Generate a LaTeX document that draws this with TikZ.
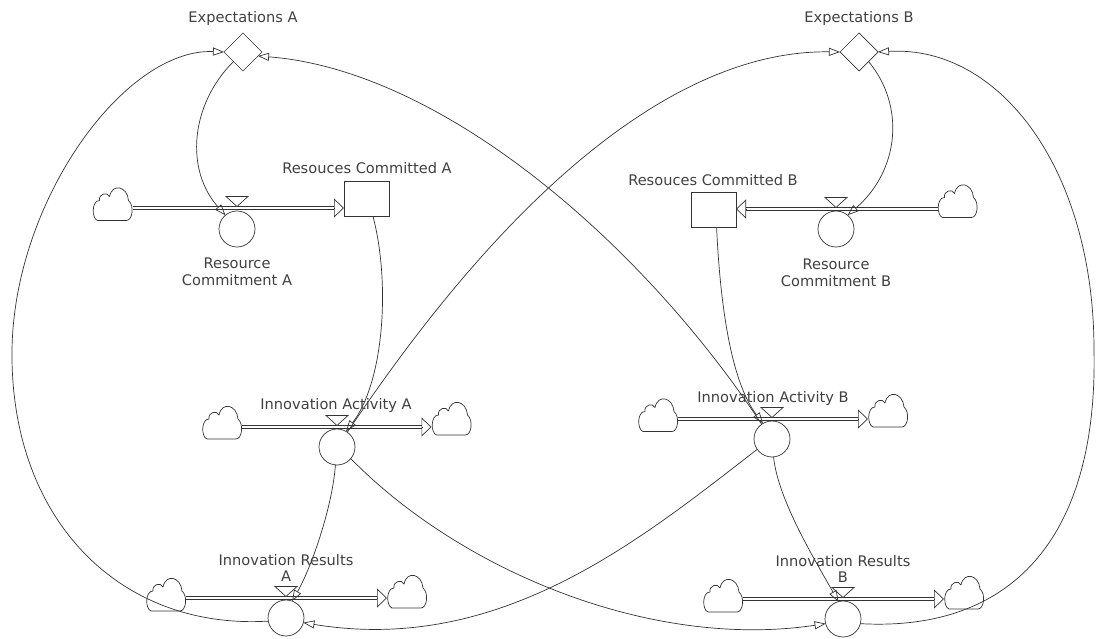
\documentclass[tikz,border=0pt]{standalone}
\usepackage{fontspec}
\setmainfont{DejaVu Sans}
\usetikzlibrary{shapes.geometric, arrows.meta}

\begin{document}
\begin{tikzpicture}[x=1pt, y=-1pt,
  every node/.style={inner sep=0pt, outer sep=0pt},
  ink/.style={draw=black!80, line width=0.7pt},
  lbl/.style={text=black!75, font=\fontsize{14.6}{16.5}\selectfont, align=center},
  aux/.style={ink, circle, minimum size=36pt, fill=white},
  level/.style={ink, rectangle, minimum width=45pt, minimum height=35pt, fill=white},
  expect/.style={ink, diamond, minimum width=38pt, minimum height=38pt, fill=white},
  cloudslot/.style={rectangle, minimum width=40pt, minimum height=33pt},
  pipe/.style={draw=black!80, line width=0.7pt, double=white, double distance=2.2pt},
  pipetip/.style={ink, -{Triangle[open, length=10pt, width=19pt]}},
  link/.style={ink, -{Triangle[open, length=11pt, width=8pt]}},
  valvetri/.style={ink, fill=white, line join=miter},
  cloudpic/.pic={
    \draw[ink, line join=round, yscale=-1]
      (-15,-16) -- (14,-16)
      .. controls (20,-16) and (22,-1) .. (16,4)
      .. controls (15,18) and (0,22) .. (-3,8)
      .. controls (-5,13) and (-14,11) .. (-13,4)
      .. controls (-21,4) and (-21,-14) .. (-15,-16) -- cycle;
  }
]
\useasboundingbox (0,0) rectangle (1096,639);

% ---------- stocks, auxiliaries and expectations ----------
\node[expect] (expA) at (243,52) {};
\node[expect] (expB) at (859,52) {};
\node[level] (stA) at (366.5,198.5) {};
\node[level] (stB) at (713.5,210) {};
\node[aux] (rcA) at (237,229) {};
\node[aux] (rcB) at (836,229) {};
\node[aux] (iaA) at (337,447) {};
\node[aux] (iaB) at (772,439) {};
\node[aux] (irA) at (286,618) {};
\node[aux] (irB) at (843,619) {};

% ---------- pipe levels (valve positions) ----------
\coordinate (pRA) at (237,208);
\coordinate (pRB) at (836,209);
\coordinate (pIA) at (337,427);
\coordinate (pIB) at (772,419);
\coordinate (pRsA) at (286,598);
\coordinate (pRsB) at (843,599);

% ---------- sources and sinks ----------
\node[cloudslot] (clRAl) at (112.5,204.5) {};
\node[cloudslot] (clRBr) at (957.5,201.5) {};
\node[cloudslot] (clIAl) at (222,423) {};
\node[cloudslot] (clIAr) at (451.5,419) {};
\node[cloudslot] (clIBl) at (658,415.5) {};
\node[cloudslot] (clIBr) at (888,411) {};
\node[cloudslot] (clRsAl) at (166,595) {};
\node[cloudslot] (clRsAr) at (407,592) {};
\node[cloudslot] (clRsBl) at (723,596) {};
\node[cloudslot] (clRsBr) at (964,593) {};
\foreach \c in {clRAl,clRBr,clIAl,clIAr,clIBl,clIBr,clRsAl,clRsAr,clRsBl,clRsBr}
  \pic at (\c) {cloudpic};

% ---------- flow end points ----------
\coordinate (eRA) at (stA.west |- pRA);
\coordinate (eRB) at (stB.east |- pRB);
\coordinate (eIA) at (clIAr.west |- pIA);
\coordinate (eIB) at (clIBr.west |- pIB);
\coordinate (eRsA) at (clRsAr.west |- pRsA);
\coordinate (eRsB) at (clRsBr.west |- pRsB);

% ---------- flows (double pipes) ----------
\draw[pipe] (clRAl.east |- pRA) -- ([xshift=-10pt]eRA);
\draw[pipetip] ([xshift=-10pt]eRA) -- (eRA);
\draw[pipe] (clRBr.west |- pRB) -- ([xshift=10pt]eRB);
\draw[pipetip] ([xshift=10pt]eRB) -- (eRB);
\draw[pipe] (clIAl.east |- pIA) -- ([xshift=-10pt]eIA);
\draw[pipetip] ([xshift=-10pt]eIA) -- (eIA);
\draw[pipe] (clIBl.east |- pIB) -- ([xshift=-10pt]eIB);
\draw[pipetip] ([xshift=-10pt]eIB) -- (eIB);
\draw[pipe] (clRsAl.east |- pRsA) -- ([xshift=-10pt]eRsA);
\draw[pipetip] ([xshift=-10pt]eRsA) -- (eRsA);
\draw[pipe] (clRsBl.east |- pRsB) -- ([xshift=-10pt]eRsB);
\draw[pipetip] ([xshift=-10pt]eRsB) -- (eRsB);

% ---------- valves ----------
\foreach \v in {pRA,pRB,pIA,pIB,pRsA,pRsB}
  \draw[valvetri] ([yshift=1.5pt]\v) -- ++(-11,-10) -- ++(22,0) -- cycle;

% ---------- information links ----------
\draw[link] (expA.south west) .. controls (190,105) and (185,170) .. (rcA.130);
\draw[link] (expB.south east) .. controls (905,105) and (900,170) .. (rcB.50);
\draw[link] (stA.-70) .. controls (390,280) and (385,380) .. (iaA.60);
\draw[link] (stB.-80) .. controls (720,300) and (730,380) .. (iaB.120);
\draw[link] (iaA.55) .. controls (535,152) and (700,50) .. (expB.west);
\draw[link] (iaB.125) .. controls (640,240) and (440,70) .. (expA.-15);
\draw[link] (iaA.-95) .. controls (332,510) and (310,570) .. (irA.70);
\draw[link] (iaB.-85) .. controls (778,500) and (815,560) .. (irB.105);
\draw[link] (iaA.-40) .. controls (460,570) and (650,650) .. (irB.195);
\draw[link] (iaB.-145) .. controls (640,540) and (500,655) .. (irA.-15);
\draw[link] (irA.190) .. controls (120,630) and (10,520) .. (12,350)
  .. controls (14,200) and (125,48) .. (expA.west);
\draw[link] (irB.-15) .. controls (1010,632) and (1098,540) .. (1094,350)
  .. controls (1094,170) and (1000,45) .. (expB.east);

% ---------- labels ----------
\node[lbl] (tExpA) at (243,18) {Expectations A};
\node[lbl] (tExpB) at (859,18) {Expectations B};
\node[lbl] (tStA) at (367,168) {Resouces Committed A};
\node[lbl] (tStB) at (713,180) {Resouces Committed B};
\node[lbl] (tRcA) at (237,272) {Resource\\Commitment A};
\node[lbl] (tRcB) at (836,273) {Resource\\Commitment B};
\node[lbl] (tIaA) at (336,405) {Innovation Activity A};
\node[lbl] (tIaB) at (773,398) {Innovation Activity B};
\node[lbl] (tIrA) at (286,568) {Innovation Results\\A};
\node[lbl] (tIrB) at (843,569) {Innovation Results\\B};
\end{tikzpicture}
\end{document}
